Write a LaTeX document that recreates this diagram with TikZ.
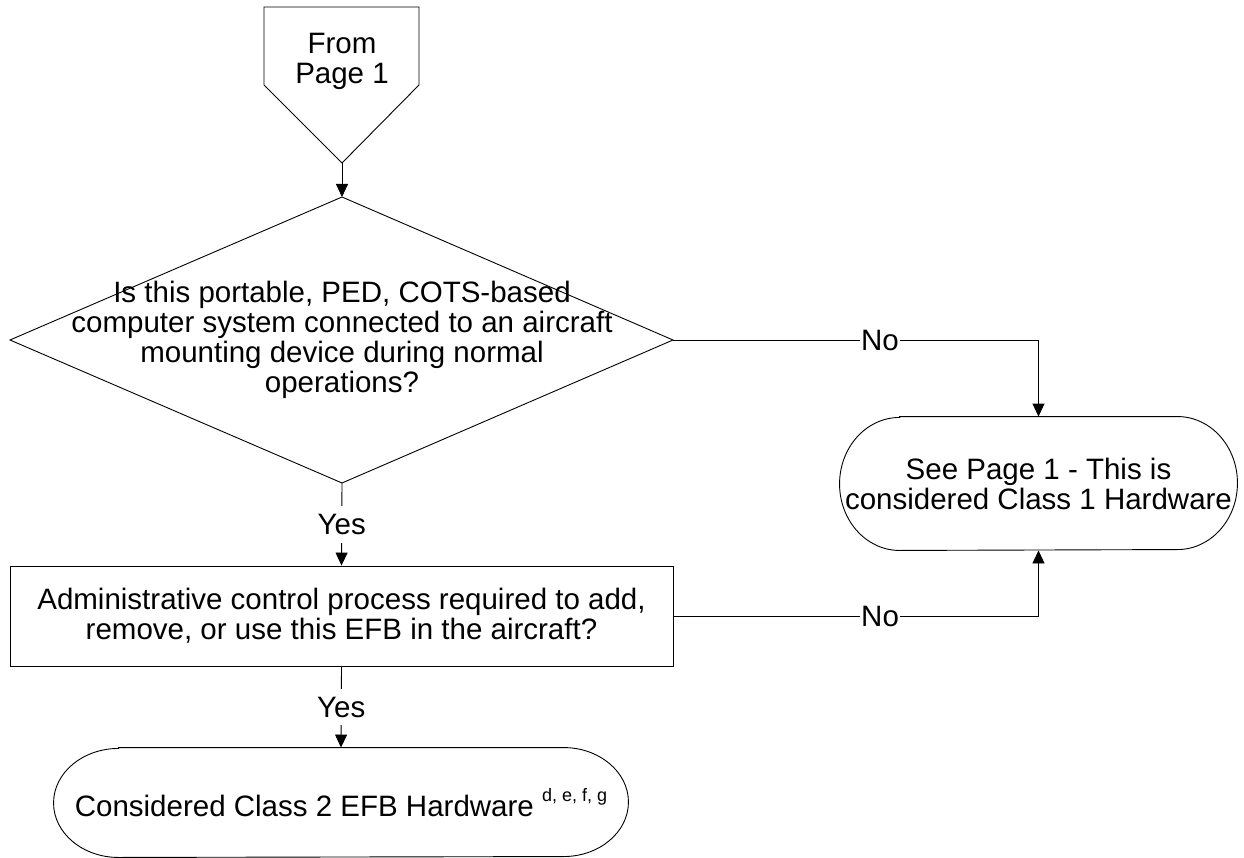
\documentclass[tikz,border=0pt]{standalone}
\usepackage{fontspec}
\setmainfont{Liberation Sans}
\usetikzlibrary{arrows.meta}
\begin{document}
\begin{tikzpicture}[x=1pt,y=1pt,
  line width=0.9pt,
  arr/.style={-{Triangle[length=13pt,width=12pt]}},
  txt/.style={font=\fontsize{29.5pt}{30pt}\selectfont, align=center, inner sep=0pt},
  lbl/.style={font=\fontsize{29.5pt}{30pt}\selectfont, fill=white, inner xsep=1pt, inner ysep=1pt},
  ylbl/.style={lbl, inner ysep=8pt},
]
\useasboundingbox (0,0) rectangle (1244,-858);

% off-page connector
\coordinate (s1) at (264,-7);
\coordinate (s2) at (419,-7);
\coordinate (s3) at (419,-85);
\coordinate (stip) at (342,-163);
\coordinate (s5) at (264,-85);
\draw (s1) -- (s2) -- (s3) -- (stip) -- (s5) -- cycle;
\node[txt] (start) at (342,-61) {From\\Page 1};

% decision 1
\coordinate (dt) at (342,-197);
\coordinate (dr) at (673,-340);
\coordinate (db) at (342,-483);
\coordinate (dl) at (10,-340);
\draw (dt) -- (dr) -- (db) -- (dl) -- cycle;
\node[txt] (q1) at (342,-340) {Is this portable, PED, COTS-based\\computer system connected to an aircraft\\mounting device during normal\\operations?};

% decision 2 (box)
\node[txt, draw, minimum width=663pt, minimum height=100pt] (q2) at (341.5,-616) {Administrative control process required to add,\\remove, or use this EFB in the aircraft?};

% terminal 1
\node[txt, minimum width=397pt, minimum height=133pt] (t1) at (1038.5,-483.5) {See Page 1 - This is\\considered Class 1 Hardware};
\draw ([xshift=60pt]t1.north west) -- ([xshift=-60pt]t1.north east)
  arc[start angle=90, end angle=-90, x radius=60pt, y radius=66.5pt]
  -- ([xshift=60pt]t1.south west)
  arc[start angle=270, end angle=90, x radius=60pt, y radius=66.5pt] -- cycle;

% terminal 2
\node[txt, minimum width=574pt, minimum height=109pt] (t2) at (341,-802.5) {Considered Class 2 EFB Hardware \raisebox{15pt}{\fontsize{18pt}{18pt}\selectfont d, e, f, g}};
\draw ([xshift=65pt]t2.north west) -- ([xshift=-65pt]t2.north east)
  arc[start angle=90, end angle=-90, x radius=65pt, y radius=54.5pt]
  -- ([xshift=65pt]t2.south west)
  arc[start angle=270, end angle=90, x radius=65pt, y radius=54.5pt] -- cycle;

% connectors
\draw[arr] (stip) -- (dt);
\draw[arr] (dr) -| node[lbl, pos=0.283] {No} (t1.north);
\draw[arr] (db) -- node[ylbl] {Yes} (q2.north);
\draw[arr] (q2.east) -| node[lbl, pos=0.283] {No} (t1.south);
\draw[arr] (q2.south) -- node[ylbl] {Yes} (t2.north);
\end{tikzpicture}
\end{document}
